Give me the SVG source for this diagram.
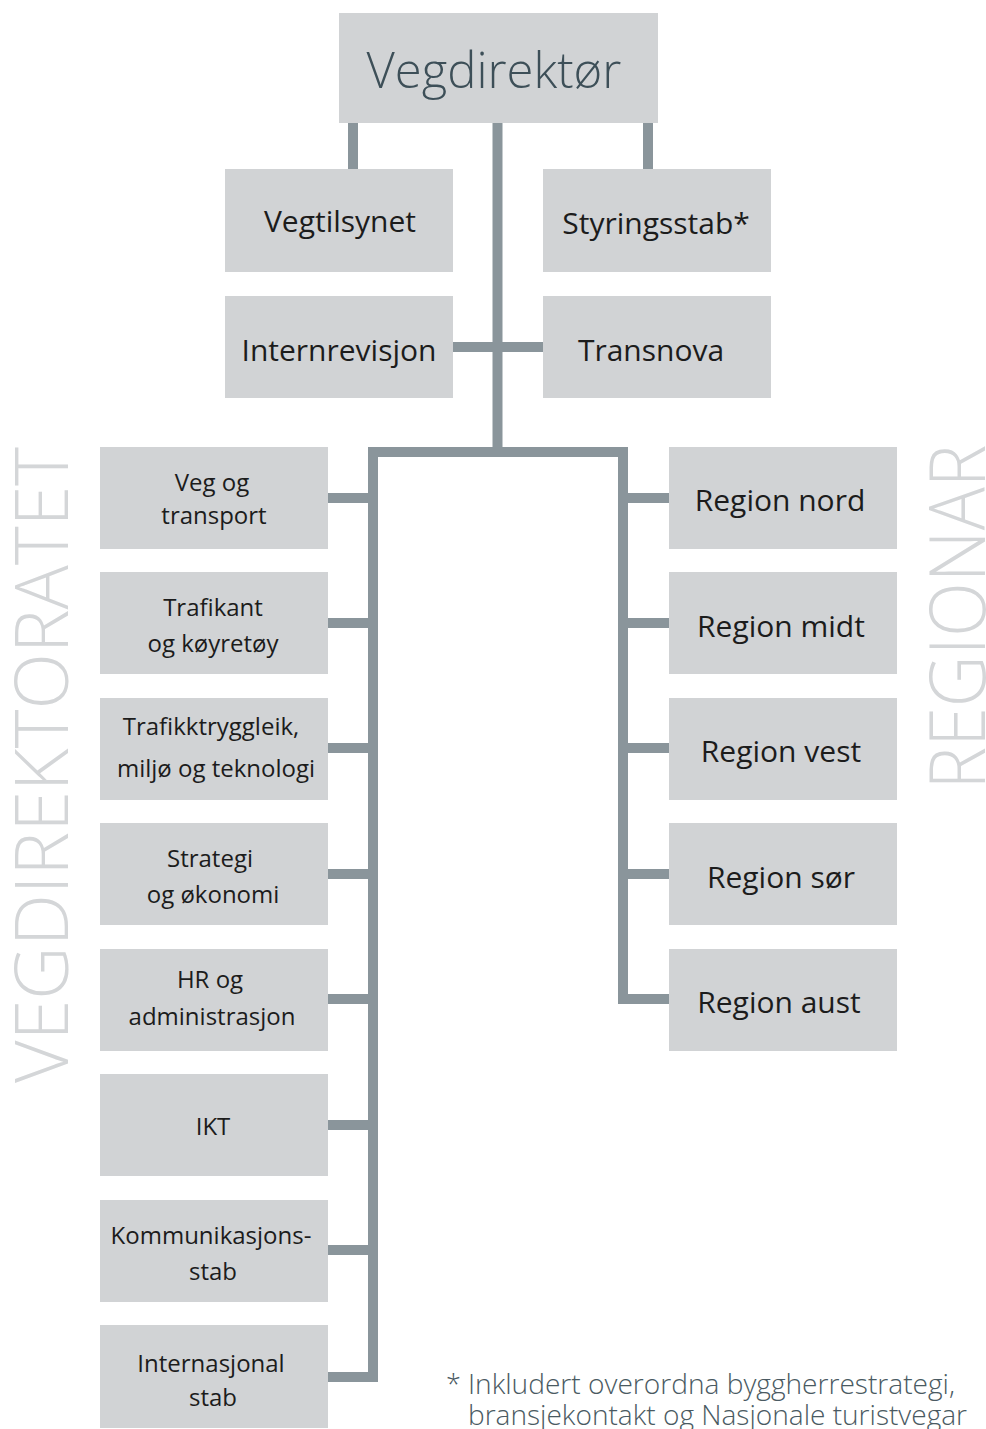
<svg xmlns="http://www.w3.org/2000/svg" width="986" height="1429" viewBox="0 0 986 1429">
<style>
.box{fill:#d1d3d5}
.t{font-family:"Open Sans","Liberation Sans",sans-serif;fill:#1c1c1c;text-anchor:middle}
.big{font-size:30px}
.sm{font-size:24px}
.c{stroke:#8a959b;stroke-width:10;fill:none}
.side{font-family:"Open Sans","Liberation Sans",sans-serif;font-weight:300;fill:#d4d6d8;text-anchor:middle}
</style>
<rect width="986" height="1429" fill="#ffffff"/>
<g id="connectors">
<line class="c" x1="353" y1="123" x2="353" y2="170"/>
<line class="c" x1="648" y1="123" x2="648" y2="170"/>
<line class="c" x1="497.5" y1="123" x2="497.5" y2="452"/>
<line class="c" x1="452" y1="347" x2="543" y2="347"/>
<polyline class="c" points="373,1382 373,452 623,452 623,1003"/>
<line class="c" x1="327" y1="498" x2="373" y2="498"/>
<line class="c" x1="327" y1="623" x2="373" y2="623"/>
<line class="c" x1="327" y1="748" x2="373" y2="748"/>
<line class="c" x1="327" y1="874" x2="373" y2="874"/>
<line class="c" x1="327" y1="999" x2="373" y2="999"/>
<line class="c" x1="327" y1="1125" x2="373" y2="1125"/>
<line class="c" x1="327" y1="1250" x2="373" y2="1250"/>
<line class="c" x1="327" y1="1377" x2="378" y2="1377"/>
<line class="c" x1="623" y1="498" x2="669" y2="498"/>
<line class="c" x1="623" y1="623" x2="669" y2="623"/>
<line class="c" x1="623" y1="748" x2="669" y2="748"/>
<line class="c" x1="623" y1="874" x2="669" y2="874"/>
<line class="c" x1="618" y1="999" x2="669" y2="999"/>
</g>
<g id="vegdirektor"><rect class="box" x="339" y="13" width="319" height="110"/><text x="494" y="88" font-family="'Open Sans','Liberation Sans',sans-serif" font-weight="300" font-size="49" fill="#3d4f58" text-anchor="middle">Vegdirektør</text></g>
<g id="vegtilsynet"><rect class="box" x="225" y="169" width="228" height="103"/><text class="t big" x="340" y="232">Vegtilsynet</text></g>
<g id="styringsstab"><rect class="box" x="543" y="169" width="228" height="103"/><text class="t big" x="656" y="234">Styringsstab*</text></g>
<g id="internrevisjon"><rect class="box" x="225" y="296" width="228" height="102"/><text class="t big" x="339" y="361">Internrevisjon</text></g>
<g id="transnova"><rect class="box" x="543" y="296" width="228" height="102"/><text class="t big" x="651" y="361">Transnova</text></g>
<g id="veg-og-transport"><rect class="box" x="100" y="447" width="228" height="102"/><text class="t sm" x="212" y="491">Veg og</text><text class="t sm" x="214" y="524">transport</text></g>
<g id="trafikant"><rect class="box" x="100" y="572" width="228" height="102"/><text class="t sm" x="213" y="616">Trafikant</text><text class="t sm" x="213" y="652">og køyretøy</text></g>
<g id="trafikktryggleik"><rect class="box" x="100" y="698" width="228" height="102"/><text class="t sm" x="211" y="735">Trafikktryggleik,</text><text class="t sm" x="216" y="777">miljø og teknologi</text></g>
<g id="strategi"><rect class="box" x="100" y="823" width="228" height="102"/><text class="t sm" x="210" y="867">Strategi</text><text class="t sm" x="213" y="903">og økonomi</text></g>
<g id="hr"><rect class="box" x="100" y="949" width="228" height="102"/><text class="t sm" x="210" y="988">HR og</text><text class="t sm" x="212" y="1025">administrasjon</text></g>
<g id="ikt"><rect class="box" x="100" y="1074" width="228" height="102"/><text class="t sm" x="213" y="1135">IKT</text></g>
<g id="kommunikasjonsstab"><rect class="box" x="100" y="1200" width="228" height="102"/><text class="t sm" x="211" y="1244">Kommunikasjons-</text><text class="t sm" x="213" y="1280">stab</text></g>
<g id="internasjonal"><rect class="box" x="100" y="1325" width="228" height="103"/><text class="t sm" x="211" y="1372">Internasjonal</text><text class="t sm" x="213" y="1406">stab</text></g>
<g id="region-nord"><rect class="box" x="669" y="447" width="228" height="102"/><text class="t big" x="780" y="511">Region nord</text></g>
<g id="region-midt"><rect class="box" x="669" y="572" width="228" height="102"/><text class="t big" x="781" y="637">Region midt</text></g>
<g id="region-vest"><rect class="box" x="669" y="698" width="228" height="102"/><text class="t big" x="781" y="762">Region vest</text></g>
<g id="region-sor"><rect class="box" x="669" y="823" width="228" height="102"/><text class="t big" x="781" y="888">Region sør</text></g>
<g id="region-aust"><rect class="box" x="669" y="949" width="228" height="102"/><text class="t big" x="779" y="1013">Region aust</text></g>
<text class="side" font-size="74" transform="translate(68,765) rotate(-90)" textLength="636" lengthAdjust="spacingAndGlyphs">VEGDIREKTORATET</text>
<text class="side" font-size="77" transform="translate(985,617) rotate(-90)" textLength="345" lengthAdjust="spacingAndGlyphs">REGIONAR</text>
<g font-family="'Open Sans','Liberation Sans',sans-serif" font-weight="300" font-size="27" fill="#4a5a62">
<text x="446" y="1394">*</text>
<text x="468" y="1394" textLength="487" lengthAdjust="spacingAndGlyphs">Inkludert overordna byggherrestrategi,</text>
<text x="468" y="1425" textLength="499" lengthAdjust="spacingAndGlyphs">bransjekontakt og Nasjonale turistvegar</text>
</g>
</svg>
